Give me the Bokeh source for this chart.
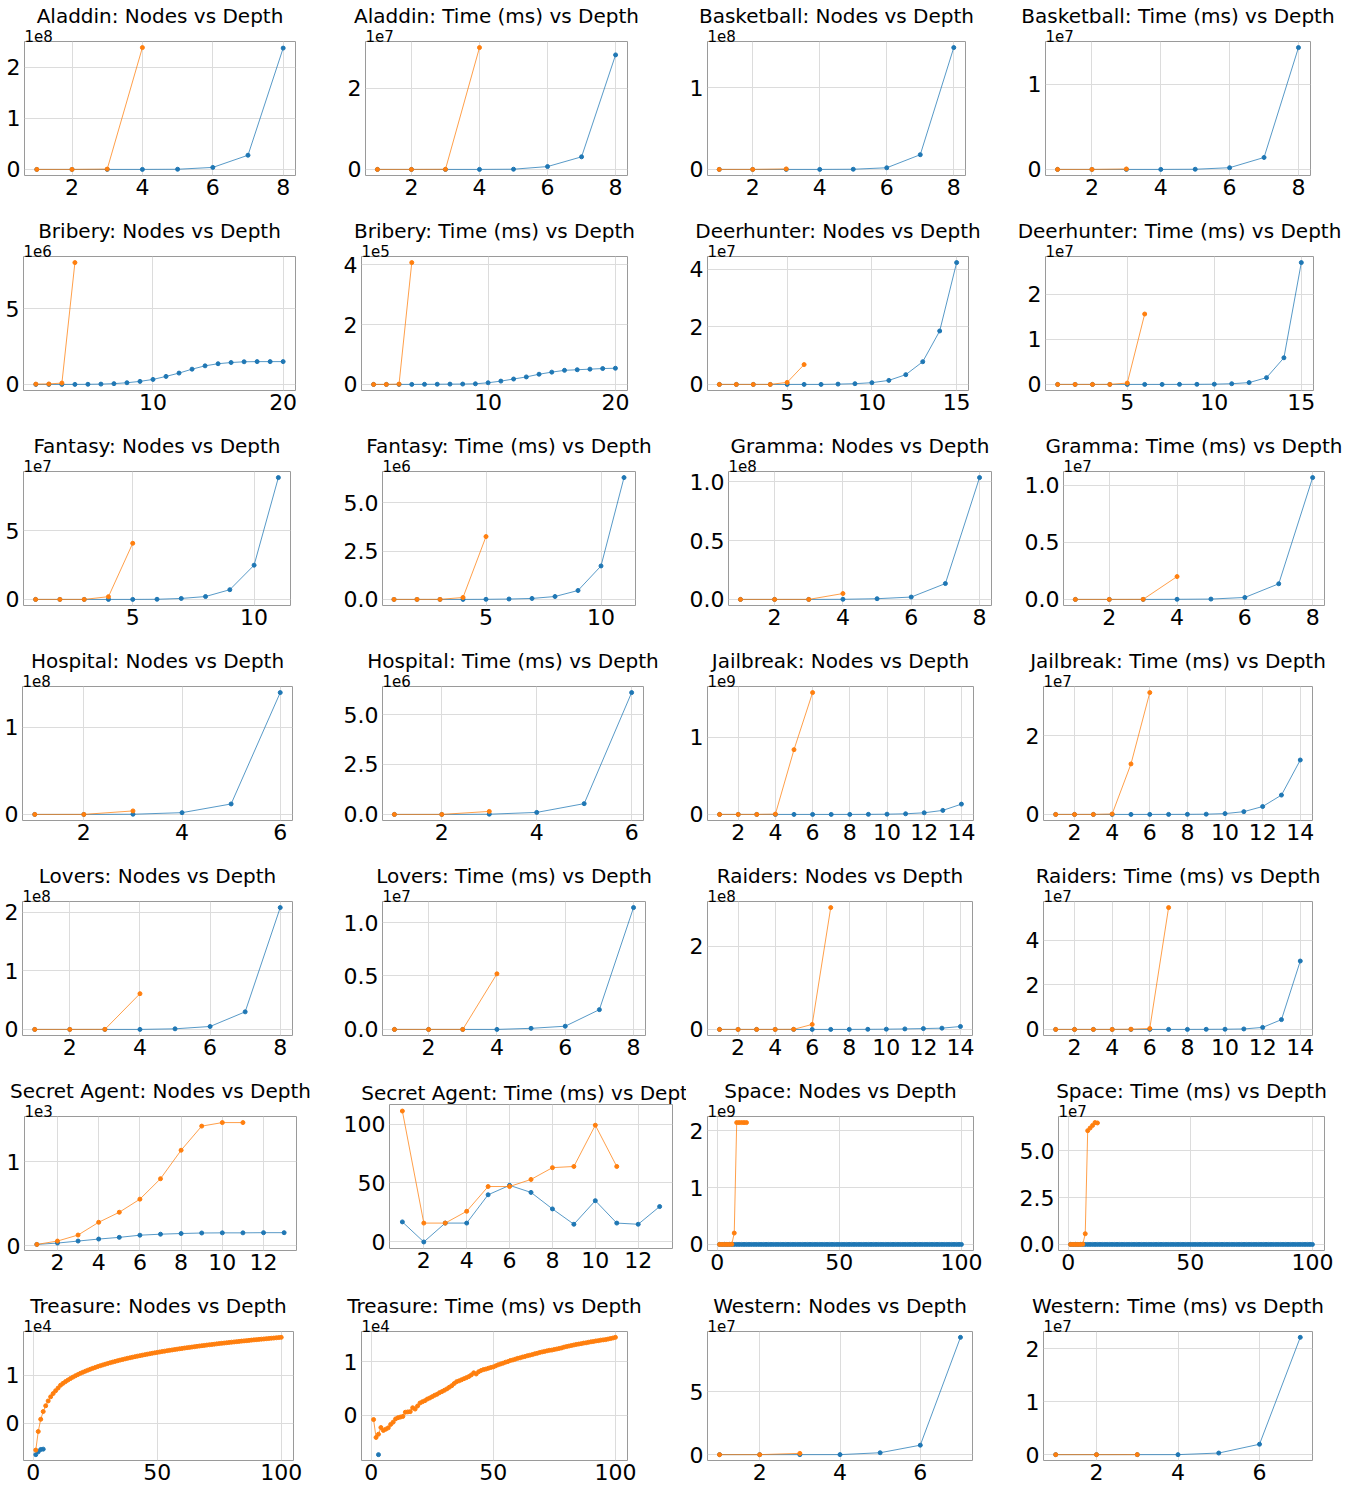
from bokeh.plotting import figure
from bokeh.models import Range1d, FixedTicker, CustomJSTickFormatter, Title
from bokeh.layouts import column, row
from bokeh.embed import file_html
from bokeh.resources import INLINE

BLUE = "#1f77b4"
ORANGE = "#ff7f0e"
FONT = "DejaVu Sans"

# ---------------- data ----------------
aladdin_nodes_b = [10, 120, 1500, 2.0e4, 3.0e5, 3.9e6, 2.77e7, 2.37e8]
aladdin_nodes_o = [10, 3000, 6.0e5, 2.38e8]
aladdin_time_b = [5, 30, 300, 4000, 5.0e4, 7.0e5, 3.1e6, 2.82e7]
aladdin_time_o = [5, 100, 3.0e4, 3.0e7]
basketball_nodes_b = [10, 100, 1000, 1.5e4, 2.0e5, 2.0e6, 1.8e7, 1.49e8]
basketball_nodes_o = [10, 1.0e4, 6.0e5]
basketball_time_b = [5, 30, 200, 2000, 2.0e4, 2.0e5, 1.4e6, 1.43e7]
basketball_time_o = [5, 100, 5.0e4]
bribery_nodes_b = [1, 10, 200, 2000, 8000, 2.0e4, 5.0e4, 1.1e5, 2.0e5, 3.3e5, 5.3e5, 7.5e5,
                   1.01e6, 1.23e6, 1.37e6, 1.45e6, 1.50e6, 1.51e6, 1.51e6, 1.51e6]
bribery_nodes_o = [2.0e4, 3.0e4, 9.0e4, 8.07e6]
bribery_time_b = [0.1, 1, 20, 100, 300, 600, 1000, 1200, 2000, 5500, 1.1e4, 1.8e4, 2.5e4,
                  3.4e4, 4.1e4, 4.7e4, 4.9e4, 5.1e4, 5.3e4, 5.4e4]
bribery_time_o = [5, 50, 1000, 4.07e5]
deerhunter_nodes_b = [1, 5, 20, 80, 300, 1000, 5000, 1.0e5, 2.5e5, 6.0e5, 1.4e6, 3.4e6, 7.9e6, 1.86e7, 4.24e7]
deerhunter_nodes_o = [1, 10, 200, 5000, 7.0e5, 6.9e6]
deerhunter_time_b = [1, 5, 20, 80, 300, 1000, 3000, 1.0e4, 2.0e4, 5.0e4, 1.5e5, 4.0e5, 1.5e6, 5.9e6, 2.70e7]
deerhunter_time_o = [1, 10, 200, 5000, 3.0e5, 1.56e7]
fantasy_nodes_b = [1, 10, 100, 1000, 1.0e4, 1.0e5, 7.0e5, 2.1e6, 7.1e6, 2.5e7, 8.9e7]
fantasy_nodes_o = [1, 50, 2000, 2.0e6, 4.1e7]
fantasy_time_b = [1, 5, 50, 500, 5000, 2.0e4, 5.0e4, 1.5e5, 4.6e5, 1.73e6, 6.3e6]
fantasy_time_o = [1, 20, 1000, 1.0e5, 3.25e6]
gramma_nodes_b = [1, 10, 100, 1.0e5, 6.0e5, 2.0e6, 1.35e7, 1.037e8]
gramma_nodes_o = [1, 100, 1.0e4, 5.0e6]
gramma_time_b = [1, 5, 50, 1.0e4, 3.0e4, 1.7e5, 1.37e6, 1.067e7]
gramma_time_o = [1, 50, 5000, 2.0e6]
hospital_nodes_b = [10, 500, 2.0e5, 2.0e6, 1.2e7, 1.40e8]
hospital_nodes_o = [10, 5000, 4.0e6]
hospital_time_b = [1, 20, 1.0e4, 1.0e5, 5.4e5, 6.1e6]
hospital_time_o = [1, 50, 1.5e5]
jailbreak_nodes_b = [1, 5, 30, 200, 1000, 6000, 3.0e4, 1.5e5, 7.0e5, 3.0e6, 8.0e6, 2.1e7, 5.2e7, 1.33e8]
jailbreak_nodes_o = [1, 50, 3000, 4.0e6, 8.37e8, 1.575e9]
jailbreak_time_b = [1, 5, 20, 100, 500, 2000, 6000, 2.0e4, 6.0e4, 2.0e5, 7.0e5, 2.0e6, 4.9e6, 1.38e7]
jailbreak_time_o = [1, 20, 1000, 1.0e5, 1.28e7, 3.09e7]
lovers_nodes_b = [10, 100, 1000, 1.0e4, 1.0e6, 5.0e6, 3.0e7, 2.08e8]
lovers_nodes_o = [10, 1000, 1.0e5, 6.1e7]
lovers_time_b = [1, 10, 100, 1000, 1.0e5, 3.0e5, 1.85e6, 1.14e7]
lovers_time_o = [1, 50, 1000, 5.2e6]
raiders_nodes_b = [1, 5, 30, 150, 800, 4000, 2.0e4, 8.0e4, 2.5e5, 6.0e5, 1.2e6, 2.0e6, 3.0e6, 7.0e6]
raiders_nodes_o = [1, 20, 500, 1.0e4, 2.0e5, 1.2e7, 2.93e8]
raiders_time_b = [1, 5, 20, 100, 400, 1500, 5000, 1.5e4, 4.0e4, 8.0e4, 2.0e5, 9.0e5, 4.4e6, 3.07e7]
raiders_time_o = [1, 10, 200, 5000, 1.0e5, 4.0e5, 5.47e7]
secret_nodes_b = [16, 32, 56, 80, 100, 126, 138, 146, 152, 154, 154, 156, 156]
secret_nodes_o = [16, 56, 128, 280, 400, 556, 800, 1140, 1428, 1470, 1470]
secret_time_b = [17, 0, 16, 16, 40, 48, 42, 28, 15, 35, 16, 15, 30]
secret_time_o = [111, 16, 16, 26, 47, 47, 53, 63, 64, 99, 64]
space_nodes_b = [
    0, 0, 0, 0, 0, 0, 0, 0, 0, 0,
    0, 0, 0, 0, 0, 0, 0, 0, 0, 0,
    0, 0, 0, 0, 0, 0, 0, 0, 0, 0,
    0, 0, 0, 0, 0, 0, 0, 0, 0, 0,
    0, 0, 0, 0, 0, 0, 0, 0, 0, 0,
    0, 0, 0, 0, 0, 0, 0, 0, 0, 0,
    0, 0, 0, 0, 0, 0, 0, 0, 0, 0,
    0, 0, 0, 0, 0, 0, 0, 0, 0, 0,
    0, 0, 0, 0, 0, 0, 0, 0, 0, 0,
    0, 0, 0, 0, 0, 0, 0, 0, 0, 0]
space_nodes_o = [1, 20, 400, 8000, 1.6e5, 3.2e6, 2.0e8, 2147483647, 2147483647, 2147483647,
                 2147483647, 2147483647]
space_time_b = [
    0, 0, 0, 0, 0, 0, 0, 0, 0, 0,
    0, 0, 0, 0, 0, 0, 0, 0, 0, 0,
    0, 0, 0, 0, 0, 0, 0, 0, 0, 0,
    0, 0, 0, 0, 0, 0, 0, 0, 0, 0,
    0, 0, 0, 0, 0, 0, 0, 0, 0, 0,
    0, 0, 0, 0, 0, 0, 0, 0, 0, 0,
    0, 0, 0, 0, 0, 0, 0, 0, 0, 0,
    0, 0, 0, 0, 0, 0, 0, 0, 0, 0,
    0, 0, 0, 0, 0, 0, 0, 0, 0, 0,
    0, 0, 0, 0, 0, 0, 0, 0, 0, 0]
space_time_o = [0.1, 1, 20, 300, 6000, 1.2e5, 5.7e6, 6.07e7, 6.21e7, 6.35e7, 6.5e7, 6.48e7]
treasure_nodes_b = [-6470, -5870, -5400, -5330]
treasure_nodes_o = [
    -5530, -1670, 870, 2470, 3670, 4670, 5530, 6200, 6800, 7350,
    7940, 8330, 8690, 9020, 9330, 9620, 9900, 10150, 10400, 10630,
    10850, 11060, 11260, 11450, 11630, 11810, 11980, 12140, 12300, 12450,
    12600, 12740, 12880, 13020, 13150, 13270, 13400, 13520, 13630, 13750,
    13860, 13970, 14070, 14180, 14280, 14380, 14470, 14570, 14660, 14750,
    14840, 14930, 15010, 15100, 15180, 15260, 15340, 15420, 15500, 15570,
    15650, 15720, 15790, 15860, 15930, 16000, 16070, 16140, 16200, 16270,
    16330, 16390, 16450, 16520, 16580, 16640, 16690, 16750, 16810, 16870,
    16920, 16980, 17030, 17090, 17140, 17190, 17240, 17300, 17350, 17400,
    17450, 17500, 17540, 17590, 17640, 17690, 17730, 17780, 17830, 17870]
treasure_time_b_depth = [3]
treasure_time_b = [-7380]
treasure_time_o = [
    -830, -4170, -3570, -2320, -2860, -2620, -2380, -1730, -1310, -710,
    -480, -360, -240, 540, 600, 650, 1370, 1130, 1700, 2260,
    2500, 2700, 3000, 3200, 3450, 3700, 3900, 4200, 4400, 4640,
    4900, 5200, 5500, 5900, 6250, 6400, 6600, 6800, 7000, 7200,
    7500, 7900, 7680, 8100, 8330, 8500, 8600, 8750, 8900, 9000,
    9200, 9400, 9550, 9700, 9880, 10000, 10200, 10300, 10450, 10600,
    10700, 10850, 10950, 11100, 11200, 11300, 11450, 11550, 11700, 11800,
    11900, 12000, 12100, 12150, 12260, 12350, 12450, 12550, 12700, 12800,
    12900, 13000, 13100, 13200, 13270, 13350, 13450, 13500, 13600, 13690,
    13750, 13850, 13900, 14000, 14050, 14100, 14200, 14300, 14400, 14520]
western_nodes_b = [10, 100, 1000, 1.0e4, 1.5e6, 7.5e6, 9.3e7]
western_nodes_o = [10, 1000, 1.0e6]
western_time_b = [1, 10, 100, 1000, 3.0e5, 1.96e6, 2.21e7]
western_time_o = [1, 50, 5000]

X8 = [2, 4, 6, 8]
X14 = [2, 4, 6, 8, 10, 12, 14]
X100 = [0, 50, 100]


def depth(v):
    return list(range(1, len(v) + 1))


# title, blue x, blue y, orange x, orange y, x ticks, y ticks, y exponent, decimals
panels = [
    ["Aladdin: Nodes vs Depth", depth(aladdin_nodes_b), aladdin_nodes_b, depth(aladdin_nodes_o), aladdin_nodes_o, X8, [0, 1e8, 2e8], 8, 0],
    ["Aladdin: Time (ms) vs Depth", depth(aladdin_time_b), aladdin_time_b, depth(aladdin_time_o), aladdin_time_o, X8, [0, 2e7], 7, 0],
    ["Basketball: Nodes vs Depth", depth(basketball_nodes_b), basketball_nodes_b, depth(basketball_nodes_o), basketball_nodes_o, X8, [0, 1e8], 8, 0],
    ["Basketball: Time (ms) vs Depth", depth(basketball_time_b), basketball_time_b, depth(basketball_time_o), basketball_time_o, X8, [0, 1e7], 7, 0],
    ["Bribery: Nodes vs Depth", depth(bribery_nodes_b), bribery_nodes_b, depth(bribery_nodes_o), bribery_nodes_o, [10, 20], [0, 5e6], 6, 0],
    ["Bribery: Time (ms) vs Depth", depth(bribery_time_b), bribery_time_b, depth(bribery_time_o), bribery_time_o, [10, 20], [0, 2e5, 4e5], 5, 0],
    ["Deerhunter: Nodes vs Depth", depth(deerhunter_nodes_b), deerhunter_nodes_b, depth(deerhunter_nodes_o), deerhunter_nodes_o, [5, 10, 15], [0, 2e7, 4e7], 7, 0],
    ["Deerhunter: Time (ms) vs Depth", depth(deerhunter_time_b), deerhunter_time_b, depth(deerhunter_time_o), deerhunter_time_o, [5, 10, 15], [0, 1e7, 2e7], 7, 0],
    ["Fantasy: Nodes vs Depth", depth(fantasy_nodes_b), fantasy_nodes_b, depth(fantasy_nodes_o), fantasy_nodes_o, [5, 10], [0, 5e7], 7, 0],
    ["Fantasy: Time (ms) vs Depth", depth(fantasy_time_b), fantasy_time_b, depth(fantasy_time_o), fantasy_time_o, [5, 10], [0, 2.5e6, 5e6], 6, 1],
    ["Gramma: Nodes vs Depth", depth(gramma_nodes_b), gramma_nodes_b, depth(gramma_nodes_o), gramma_nodes_o, X8, [0, 0.5e8, 1e8], 8, 1],
    ["Gramma: Time (ms) vs Depth", depth(gramma_time_b), gramma_time_b, depth(gramma_time_o), gramma_time_o, X8, [0, 0.5e7, 1e7], 7, 1],
    ["Hospital: Nodes vs Depth", depth(hospital_nodes_b), hospital_nodes_b, depth(hospital_nodes_o), hospital_nodes_o, [2, 4, 6], [0, 1e8], 8, 0],
    ["Hospital: Time (ms) vs Depth", depth(hospital_time_b), hospital_time_b, depth(hospital_time_o), hospital_time_o, [2, 4, 6], [0, 2.5e6, 5e6], 6, 1],
    ["Jailbreak: Nodes vs Depth", depth(jailbreak_nodes_b), jailbreak_nodes_b, depth(jailbreak_nodes_o), jailbreak_nodes_o, X14, [0, 1e9], 9, 0],
    ["Jailbreak: Time (ms) vs Depth", depth(jailbreak_time_b), jailbreak_time_b, depth(jailbreak_time_o), jailbreak_time_o, X14, [0, 2e7], 7, 0],
    ["Lovers: Nodes vs Depth", depth(lovers_nodes_b), lovers_nodes_b, depth(lovers_nodes_o), lovers_nodes_o, X8, [0, 1e8, 2e8], 8, 0],
    ["Lovers: Time (ms) vs Depth", depth(lovers_time_b), lovers_time_b, depth(lovers_time_o), lovers_time_o, X8, [0, 0.5e7, 1e7], 7, 1],
    ["Raiders: Nodes vs Depth", depth(raiders_nodes_b), raiders_nodes_b, depth(raiders_nodes_o), raiders_nodes_o, X14, [0, 2e8], 8, 0],
    ["Raiders: Time (ms) vs Depth", depth(raiders_time_b), raiders_time_b, depth(raiders_time_o), raiders_time_o, X14, [0, 2e7, 4e7], 7, 0],
    ["Secret Agent: Nodes vs Depth", depth(secret_nodes_b), secret_nodes_b, depth(secret_nodes_o), secret_nodes_o, [2, 4, 6, 8, 10, 12], [0, 1e3], 3, 0],
    ["Secret Agent: Time (ms) vs Depth", depth(secret_time_b), secret_time_b, depth(secret_time_o), secret_time_o, [2, 4, 6, 8, 10, 12], [0, 50, 100], 0, 0],
    ["Space: Nodes vs Depth", depth(space_nodes_b), space_nodes_b, depth(space_nodes_o), space_nodes_o, X100, [0, 1e9, 2e9], 9, 0],
    ["Space: Time (ms) vs Depth", depth(space_time_b), space_time_b, depth(space_time_o), space_time_o, X100, [0, 2.5e7, 5e7], 7, 1],
    ["Treasure: Nodes vs Depth", depth(treasure_nodes_b), treasure_nodes_b, depth(treasure_nodes_o), treasure_nodes_o, X100, [0, 1e4], 4, 0],
    ["Treasure: Time (ms) vs Depth", treasure_time_b_depth, treasure_time_b, depth(treasure_time_o), treasure_time_o, X100, [0, 1e4], 4, 0],
    ["Western: Nodes vs Depth", depth(western_nodes_b), western_nodes_b, depth(western_nodes_o), western_nodes_o, [2, 4, 6], [0, 5e7], 7, 0],
    ["Western: Time (ms) vs Depth", depth(western_time_b), western_time_b, depth(western_time_o), western_time_o, [2, 4, 6], [0, 1e7, 2e7], 7, 0],
]

# ---------------- layout ----------------
COL_W = [340, 346, 330, 345]
ROW_H = [215, 215, 215, 215, 215, 215, 199]
# per panel (min border left, min border right)
BORDERS = [
    (24, 45), (25, 59), (19, 51), (29, 51),
    (23, 45), (16, 59), (19, 48), (29, 48),
    (23, 50), (35, 51), (35, 25), (47, 37),
    (22, 48), (28, 43), (16, 43), (27, 49),
    (22, 48), (35, 41), (17, 44), (27, 49),
    (24, 44), (43, 14), (16, 43), (38, 37),
    (23, 47), (16, 59), (11, 44), (27, 49),
]


def make_panel(i, spec):
    title, xb, yb, xo, yo, xticks, yticks, exp, dec = spec
    r, c = divmod(i, 4)
    xs = list(xb) + list(xo)
    ys = list(yb) + list(yo)
    x0, x1 = min(xs), max(xs)
    y0, y1 = min(ys), max(ys)
    px = (x1 - x0) * 0.05
    py = (y1 - y0) * 0.05
    no_offset = exp == 0
    h = ROW_H[r]
    if no_offset:
        top, frame_h = 29, 144
    elif r == 6:
        top, frame_h = 41, 129
    else:
        top, frame_h = 41, 134
    bottom = h - top - frame_h
    mbl, mbr = BORDERS[i]
    p = figure(width=COL_W[c], height=h,
               x_range=Range1d(x0 - px, x1 + px), y_range=Range1d(y0 - py, y1 + py),
               output_backend="svg", toolbar_location=None, tools="", title=None)
    p.min_border_left = mbl
    p.min_border_right = mbr
    p.min_border_top = top
    p.min_border_bottom = bottom
    p.background_fill_color = "white"
    p.border_fill_color = "white"
    p.outline_line_color = "#9a9a9a"
    p.outline_line_width = 1

    if not no_offset:
        p.add_layout(Title(text="1e%d" % exp, align="left", text_font=FONT,
                           text_font_size="15px", text_font_style="normal",
                           text_color="black", standoff=0), "above")
    p.add_layout(Title(text=title, align="center", text_font=FONT,
                       text_font_size="20px", text_font_style="normal",
                       text_color="black", standoff=0), "above")

    xt = FixedTicker(ticks=xticks)
    yt = FixedTicker(ticks=yticks)
    p.xaxis.ticker = xt
    p.yaxis.ticker = yt
    p.xgrid.ticker = xt
    p.ygrid.ticker = yt
    p.yaxis.formatter = CustomJSTickFormatter(
        args=dict(scale=10 ** exp, d=dec),
        code="return (tick / scale).toFixed(d);")
    for ax in (p.xaxis[0], p.yaxis[0]):
        ax.major_label_text_font = FONT
        ax.major_label_text_font_size = "22px"
        ax.major_label_text_color = "black"
        ax.axis_line_color = None
        ax.major_tick_line_color = None
        ax.minor_tick_line_color = None
        ax.major_tick_out = 0
        ax.major_tick_in = 0
        ax.major_label_standoff = 4
    p.xaxis[0].major_label_standoff = 3
    for g in (p.xgrid[0], p.ygrid[0]):
        g.grid_line_color = "#dcdcdc"
        g.grid_line_width = 1

    p.line(xb, yb, line_color=BLUE, line_width=1, line_alpha=0.75)
    p.scatter(xb, yb, size=4, fill_color=BLUE, line_color=BLUE, marker="circle")
    p.line(xo, yo, line_color=ORANGE, line_width=1, line_alpha=0.75)
    p.scatter(xo, yo, size=4, fill_color=ORANGE, line_color=ORANGE, marker="circle")
    return p


figs = [make_panel(i, s) for i, s in enumerate(panels)]
# each figure sits in its own column so that rows do not align plot frames
layout = column(*[row(*[column(f) for f in figs[r * 4:(r + 1) * 4]]) for r in range(7)])

open("out.html", "w").write(file_html(layout, INLINE))
